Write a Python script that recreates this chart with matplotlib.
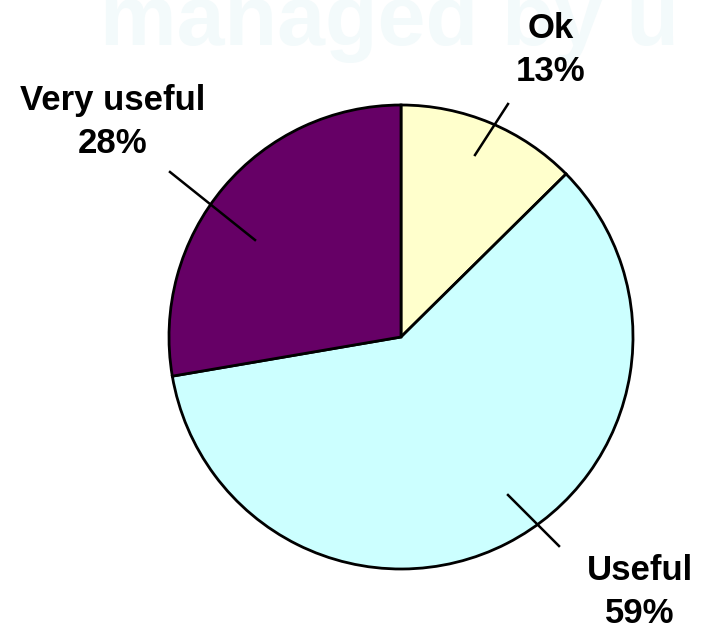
import matplotlib.pyplot as plt

# ================= DATA =================
categories = ["Ok", "Useful", "Very useful"]
shares = [12.6, 59.7, 27.7]
pct_labels = ["13%", "59%", "28%"]
colors = ["#ffffcc", "#ccffff", "#660066"]

W, H = 702, 628

plt.rcParams["font.family"] = ["Liberation Sans", "DejaVu Sans"]

fig = plt.figure(figsize=(W / 100, H / 100), dpi=100)
ax = fig.add_axes([0, 0, 1, 1])

# faint watermark text behind the chart
ax.text(100, H - 45, "managed by u", fontsize=62, fontweight="bold",
        color="#f3fafb", ha="left", va="baseline", zorder=0, clip_on=True)

# ================= PIE =================
cx, cy, r = 401, H - 337, 232
ax.pie(shares, colors=colors, startangle=90, counterclock=False,
       center=(cx, cy), radius=r,
       wedgeprops=dict(edgecolor="black", linewidth=2))

# leader lines (inner point, outer point) in pixel coords
leaders = [((475, 155), (508, 104)),
           ((508, 495), (559, 546)),
           ((255, 240), (170, 172))]
text_pos = [(551, 50), (640, 592), (113, 122)]

for cat, pct, (p0, p1), (tx, ty) in zip(categories, pct_labels, leaders, text_pos):
    ax.plot([p0[0], p1[0]], [H - p0[1], H - p1[1]], color="black", lw=1.8, zorder=5)
    ax.text(tx, H - ty, f"{cat}\n{pct}", fontsize=25, fontweight="bold",
            ha="center", va="center", linespacing=1.35, zorder=6)

ax.set_xlim(0, W)
ax.set_ylim(0, H)
ax.set_aspect("auto")
ax.axis("off")

fig.savefig("out.png", dpi=100)
plt.close(fig)
